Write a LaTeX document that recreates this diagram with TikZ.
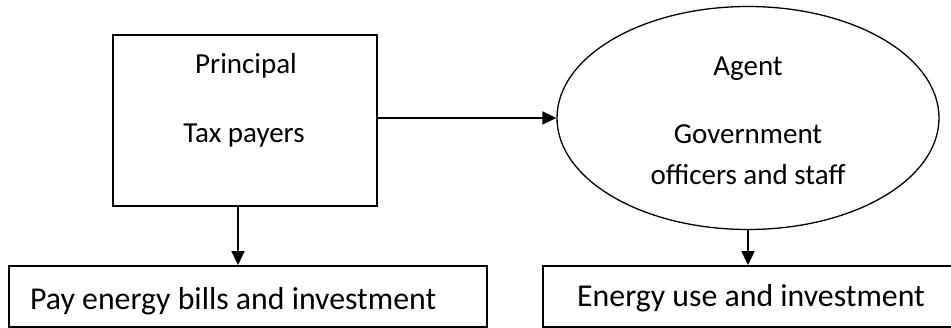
\documentclass[tikz,border=0pt]{standalone}
\usepackage{fontspec}
\setmainfont{Carlito}
\usetikzlibrary{shapes.geometric,arrows.meta}
\begin{document}
\begin{tikzpicture}[x=1pt,y=1pt,
  box/.style={draw,line width=1.8pt,rectangle,inner sep=0pt},
  oval/.style={draw,line width=1.3pt,ellipse,inner sep=0pt},
  txt/.style={anchor=base,inner sep=0pt,font=\fontsize{29}{34}\selectfont},
  ltxt/.style={anchor=base west,inner sep=0pt,font=\fontsize{31.8}{36}\selectfont},
  conn/.style={line width=1.8pt,-{Triangle[length=14pt,width=13pt]}}]
\useasboundingbox (0,0) rectangle (951,-328);
\node[box,minimum width=264pt,minimum height=171pt] (principal) at (245,-120.5) {};
\node[oval,minimum width=382pt,minimum height=223pt] (agent) at (748,-118) {};
\node[box,minimum width=478pt,minimum height=61pt] (pay) at (248,-296.5) {};
\node[box,minimum width=411pt,minimum height=61pt] (energy) at (748.5,-296.5) {};
\node[txt] (t1) at (246,-74) {Principal};
\node[txt] (t2) at (244,-143) {Tax payers};
\node[txt] (t3) at (748,-76) {Agent};
\node[txt] (t4) at (748,-144) {Government};
\node[txt] (t5) at (748,-185) {officers and staff};
\node[ltxt] (t6) at (30,-310) {Pay energy bills and investment};
\node[ltxt] (t7) at (577,-307) {Energy use and investment};
\draw[conn] (principal.east |- agent.west) -- (agent.west);
\draw[conn] ([xshift=-7pt]principal.south) -- ([xshift=-7pt]principal.south |- pay.north);
\draw[conn] (agent.south) -- (agent.south |- energy.north);
\end{tikzpicture}
\end{document}
